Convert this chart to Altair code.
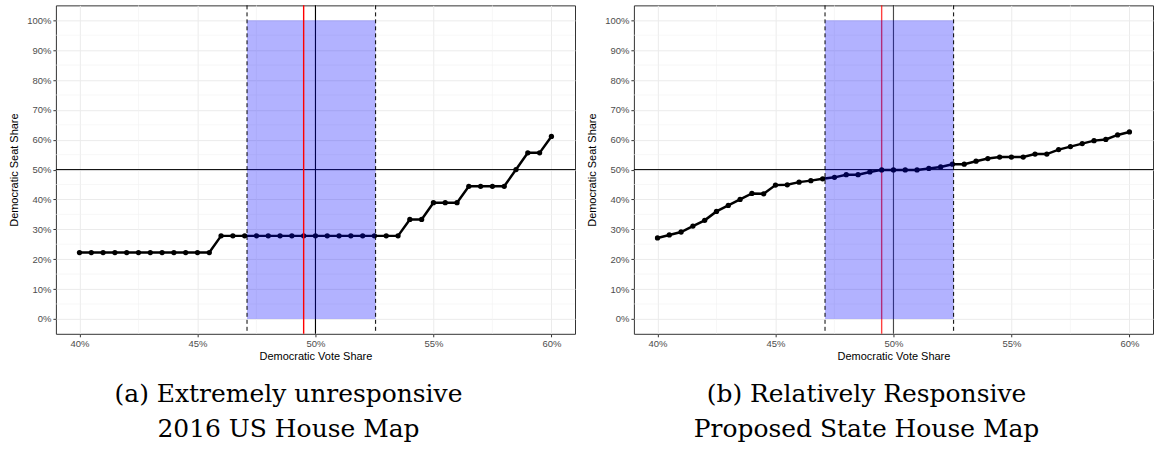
import altair as alt
import pandas as pd

VOTE_SHARE = [40.0, 40.5, 41.0, 41.5, 42.0, 42.5, 43.0, 43.5, 44.0, 44.5,
              45.0, 45.5, 46.0, 46.5, 47.0, 47.5, 48.0, 48.5, 49.0, 49.5,
              50.0, 50.5, 51.0, 51.5, 52.0, 52.5, 53.0, 53.5, 54.0, 54.5,
              55.0, 55.5, 56.0, 56.5, 57.0, 57.5, 58.0, 58.5, 59.0, 59.5, 60.0]
SEATS_A = [22.2, 22.2, 22.2, 22.2, 22.2, 22.2, 22.2, 22.2, 22.2, 22.2,
           22.2, 22.2, 27.8, 27.8, 27.8, 27.8, 27.8, 27.8, 27.8, 27.8,
           27.8, 27.8, 27.8, 27.8, 27.8, 27.8, 27.8, 27.8, 33.3, 33.3,
           38.9, 38.9, 38.9, 44.4, 44.4, 44.4, 44.4, 50.0, 55.6, 55.6, 61.1]
SEATS_B = [27.1, 28.1, 29.1, 31.1, 33.0, 36.0, 38.0, 40.0, 42.0, 41.9,
           44.8, 44.9, 45.8, 46.3, 46.9, 47.4, 48.3, 48.3, 49.2, 49.9,
           49.9, 49.9, 49.9, 50.4, 50.9, 51.8, 51.8, 52.8, 53.7, 54.2,
           54.2, 54.2, 55.2, 55.2, 56.7, 57.7, 58.7, 59.7, 60.1, 61.6, 62.6]
BAND = [47.1, 52.55]
BAND_Y = [0, 100]
RED_LINE = [49.5]
EVEN_VOTE = [50]
EVEN_SEAT = [50]
X_MAJOR = [40, 45, 50, 55, 60]
X_MINOR = [42.5, 47.5, 52.5, 57.5]
Y_MAJOR = [0, 10, 20, 30, 40, 50, 60, 70, 80, 90, 100]
Y_MINOR = [5, 15, 25, 35, 45, 55, 65, 75, 85, 95]
CAPTION_A = ["(a) Extremely unresponsive", "2016 US House Map"]
CAPTION_B = ["(b) Relatively Responsive", "Proposed State House Map"]

XT = "Democratic Vote Share"
YT = "Democratic Seat Share"
xs = alt.Scale(domain=[39, 61], nice=False, zero=False)
ys = alt.Scale(domain=[-5, 105], nice=False, zero=False)
XAXIS = alt.Axis(values=X_MAJOR, labelExpr="datum.value + '%'", title=XT)
YAXIS = alt.Axis(values=Y_MAJOR, labelExpr="datum.value + '%'", title=YT)


def X(field):
    return alt.X(field, type="quantitative", scale=xs, axis=XAXIS)


def Y(field):
    return alt.Y(field, type="quantitative", scale=ys, axis=YAXIS)


def panel(seats, caption, red_top):
    df = pd.DataFrame({"v": VOTE_SHARE, "s": seats})

    minor_x = alt.Chart(pd.DataFrame({"v": X_MINOR})).mark_rule(
        color="#f2f2f2", strokeWidth=0.6).encode(x=X("v"))
    minor_y = alt.Chart(pd.DataFrame({"s": Y_MINOR})).mark_rule(
        color="#f2f2f2", strokeWidth=0.6).encode(y=Y("s"))
    hline = alt.Chart(pd.DataFrame({"s": EVEN_SEAT})).mark_rule(
        color="black", strokeWidth=1).encode(y=Y("s"))
    vline = alt.Chart(pd.DataFrame({"v": EVEN_VOTE})).mark_rule(
        color="black", strokeWidth=1.1, opacity=1.0 if red_top else 0.7).encode(x=X("v"))
    red = alt.Chart(pd.DataFrame({"v": RED_LINE})).mark_rule(
        color="#ff0000", strokeWidth=1.4, opacity=1.0 if red_top else 0.75).encode(x=X("v"))
    line = alt.Chart(df).mark_line(color="black", strokeWidth=2.5).encode(
        x=X("v"), y=Y("s"))
    pts = alt.Chart(df).mark_circle(color="black", size=28, opacity=1).encode(
        x=X("v"), y=Y("s"))
    band_df = pd.DataFrame({"v": [BAND[0]], "v2": [BAND[1]],
                            "s": [BAND_Y[0]], "s2": [BAND_Y[1]]})
    rect = alt.Chart(band_df).mark_rect(color="#0000ff", opacity=0.3).encode(
        x=X("v"), x2="v2", y=Y("s"), y2="s2")
    dashes = alt.Chart(pd.DataFrame({"v": BAND})).mark_rule(
        color="black", strokeWidth=1, strokeDash=[4, 3]).encode(x=X("v"))

    layers = [minor_x, minor_y, line, hline, vline]
    if red_top:
        layers += [pts, rect, dashes, red]
    else:
        layers += [red, pts, rect, dashes]
    return alt.layer(*layers).properties(
        width=520, height=329,
        title=alt.TitleParams(text=caption, orient="bottom", font="DejaVu Serif",
                              fontSize=25, fontWeight="normal", color="black",
                              lineHeight=35, offset=21, dx=-27, anchor="middle"))


chart = alt.hconcat(
    panel(SEATS_A, CAPTION_A, True),
    panel(SEATS_B, CAPTION_B, False),
    spacing=10,
).properties(
    padding={"left": 8, "top": 3, "right": 0, "bottom": 0},
    background="white",
).configure_view(
    stroke="#333333", strokeWidth=1
).configure_axis(
    grid=True, gridColor="#ebebeb", gridWidth=1, domain=False,
    tickColor="#333333", tickSize=3, labelColor="#4d4d4d",
    labelFontSize=9.5, labelFont="Liberation Sans", labelPadding=2,
    titleFont="Liberation Sans", titleFontSize=11, titleFontWeight="normal",
    titleColor="black",
).configure_axisY(titlePadding=7).configure_axisX(titlePadding=2)

chart.save("out.html", embed_options={"renderer": "svg", "actions": False})
